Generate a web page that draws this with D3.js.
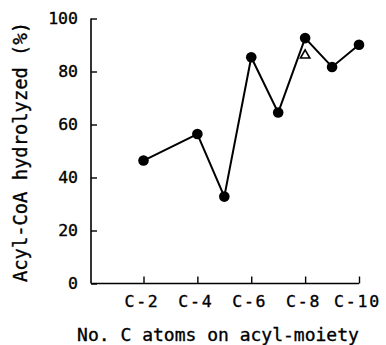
<!DOCTYPE html>
<html><head><meta charset="utf-8">
<script src="https://cdn.jsdelivr.net/npm/d3@7"></script>
<style>html,body{margin:0;padding:0;background:#fff;}svg{display:block;}</style>
</head><body>
<svg id="c" width="386" height="345"></svg>
<script>
const carbons = [2, 4, 5, 6, 7, 8, 9, 10];
const hydrolyzed = [46.4, 56.4, 32.8, 85.4, 64.5, 92.6, 81.7, 90.1];
const openCarbons = [8];
const openValues = [86.1];
const xTickValues = [2, 4, 6, 8, 10];
const xTickLabels = ["C-2", "C-4", "C-6", "C-8", "C-10"];
const yTickValues = [0, 20, 40, 60, 80, 100];

const svg = d3.select("#c");
const font = "'DejaVu Sans Mono', 'Liberation Mono', monospace";
const x = d3.scaleLinear().domain([2, 10]).range([143.5, 359]);
const y = d3.scaleLinear().domain([0, 100]).range([283.5, 18.5]);
const axisX0 = 91;

svg.append("line").attr("x1", axisX0).attr("x2", axisX0).attr("y1", y(100)).attr("y2", y(0))
  .attr("stroke", "#000").attr("stroke-width", 1.6);
svg.append("line").attr("x1", axisX0).attr("x2", x(10)).attr("y1", y(0)).attr("y2", y(0))
  .attr("stroke", "#000").attr("stroke-width", 1.6);

const yAxis = d3.axisLeft(y).tickValues(yTickValues).tickSize(-6).tickPadding(13).tickFormat(d3.format("d"));
const gy = svg.append("g").attr("transform", `translate(${axisX0},0)`).call(yAxis);
gy.select(".domain").remove();
gy.selectAll(".tick line").attr("stroke", "#000").attr("stroke-width", 1.4);
gy.selectAll(".tick text").attr("font-family", font).attr("font-size", 16.5).attr("fill", "#000")
  .attr("stroke", "#000").attr("stroke-width", 0.35);

const xAxis = d3.axisBottom(x).tickValues(xTickValues).tickSize(-7).tickPadding(12)
  .tickFormat((d, i) => xTickLabels[i]);
const gx = svg.append("g").attr("transform", `translate(0,${y(0)})`).call(xAxis);
gx.select(".domain").remove();
gx.selectAll(".tick line").attr("stroke", "#000").attr("stroke-width", 1.4);
gx.selectAll(".tick text").attr("font-family", font).attr("font-size", 16.5).attr("fill", "#000")
  .attr("letter-spacing", 1.8).attr("dx", -2)
  .attr("stroke", "#000").attr("stroke-width", 0.35);

svg.append("text").attr("x", 218).attr("y", 341).attr("text-anchor", "middle")
  .attr("font-family", font).attr("font-size", 18).attr("fill", "#000")
  .attr("stroke", "#000").attr("stroke-width", 0.35)
  .text("No. C atoms on acyl-moiety");
svg.append("text").attr("transform", "translate(27,152) rotate(-90)").attr("text-anchor", "middle")
  .attr("font-family", font).attr("font-size", 18.8).attr("fill", "#000")
  .attr("stroke", "#000").attr("stroke-width", 0.35)
  .text("Acyl-CoA hydrolyzed (%)");

const pts = carbons.map((c, i) => [c, hydrolyzed[i]]);
svg.append("path").datum(pts)
  .attr("d", d3.line().x(d => x(d[0])).y(d => y(d[1])))
  .attr("fill", "none").attr("stroke", "#000").attr("stroke-width", 2);
svg.selectAll("circle.pt").data(pts).enter().append("circle")
  .attr("class", "pt").attr("cx", d => x(d[0])).attr("cy", d => y(d[1])).attr("r", 5.3).attr("fill", "#000");

const tri = d3.symbol().type(d3.symbolTriangle).size(38);
svg.selectAll("path.tri").data(openCarbons.map((c, i) => [c, openValues[i]])).enter().append("path")
  .attr("class", "tri").attr("d", tri)
  .attr("transform", d => `translate(${x(d[0])},${y(d[1])})`)
  .attr("fill", "#fff").attr("stroke", "#000").attr("stroke-width", 1.6);
</script>
</body></html>
